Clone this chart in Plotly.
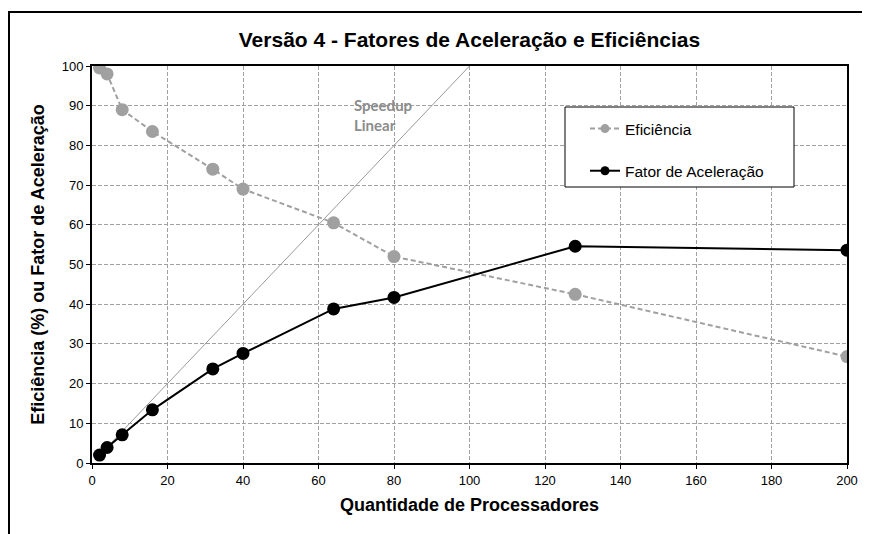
import plotly.graph_objects as go

processadores = [2, 4, 8, 16, 32, 40, 64, 80, 128, 200]
eficiencia = [99.5, 98.0, 89.0, 83.5, 74.0, 69.0, 60.5, 52.0, 42.5, 26.8]
aceleracao = [2.0, 3.9, 7.1, 13.4, 23.7, 27.6, 38.8, 41.7, 54.6, 53.6]
linear_x = [2, 100]
linear_y = [2, 100]
nomes = ["Eficiência", "Fator de Aceleração"]

FONT = "Liberation Sans, Arial, sans-serif"

# page is offset by the 8px body margin; work in figure coordinates
W, H = 862, 526
L, R, T, B = 84, 23, 58, 71
PW, PH = W - L - R, H - T - B

GRAY = "#a0a0a0"
fig = go.Figure()
fig.add_trace(go.Scatter(
    x=linear_x, y=linear_y, mode="lines", showlegend=False,
    line=dict(color="#9a9a9a", width=1), hoverinfo="skip"))
fig.add_trace(go.Scatter(
    x=processadores, y=eficiencia, mode="lines+markers", name=nomes[0],
    showlegend=False,
    line=dict(color=GRAY, width=2, dash="5px,3px"),
    marker=dict(color=GRAY, size=13)))
fig.add_trace(go.Scatter(
    x=processadores, y=aceleracao, mode="lines+markers", name=nomes[1],
    showlegend=False,
    line=dict(color="black", width=2),
    marker=dict(color="black", size=13)))
# legend entries (smaller legend symbols as in the reference)
fig.add_trace(go.Scatter(
    x=[None], y=[None], mode="lines+markers", name=nomes[0], legendgroup="a",
    line=dict(color=GRAY, width=2, dash="5px,3px"),
    marker=dict(color=GRAY, size=9)))
fig.add_trace(go.Scatter(
    x=[None], y=[None], mode="lines+markers", name=nomes[1], legendgroup="b",
    line=dict(color="black", width=2),
    marker=dict(color="black", size=9)))

ann_font = dict(family="Lato, Carlito, Liberation Sans, sans-serif", size=15, color="#8c8c8c")
fig.add_annotation(x=69, y=90.3, xref="x", yref="y", text="<b>Speedup</b>",
                   showarrow=False, xanchor="left", font=ann_font)
fig.add_annotation(x=69, y=85.2, xref="x", yref="y", text="<b>Linear</b>",
                   showarrow=False, xanchor="left", font=ann_font)

# outer chart border
fig.add_shape(type="rect", xref="paper", yref="paper",
              x0=(1 - L) / PW, x1=(858 - L) / PW,
              y0=-0.3, y1=(H - B - 4) / PH,
              line=dict(color="black", width=2), layer="below")
# legend box
fig.add_shape(type="rect", xref="paper", yref="paper",
              x0=(557 - L) / PW, x1=(786 - L) / PW,
              y0=(H - B - 179) / PH, y1=(H - B - 99) / PH,
              line=dict(color="black", width=1), fillcolor="white", layer="above")

axis_common = dict(
    showline=True, linecolor="black", linewidth=2, mirror=True,
    showgrid=True, gridcolor=GRAY, gridwidth=1, griddash="4px,2px",
    zeroline=False, ticks="outside", ticklen=4, tickcolor="black",
    tickfont=dict(family=FONT, size=13, color="black"),
)

fig.update_layout(
    width=W, height=H,
    margin=dict(l=L, r=R, t=T, b=B),
    paper_bgcolor="white", plot_bgcolor="white",
    title=dict(text="<b>Versão 4 - Fatores de Aceleração e Eficiências</b>",
               x=(L + PW / 2) / W, xanchor="center", y=1 - 32 / H, yanchor="middle",
               font=dict(family=FONT, size=21, color="black")),
    xaxis=dict(range=[0, 200], tickvals=list(range(0, 201, 20)),
               title=dict(text="<b>Quantidade de Processadores</b>",
                          font=dict(family=FONT, size=18, color="black"), standoff=12),
               **axis_common),
    yaxis=dict(range=[0, 100], tickvals=list(range(0, 101, 10)),
               title=dict(text="<b>Eficiência (%) ou Fator de Aceleração</b>",
                          font=dict(family=FONT, size=18, color="black"), standoff=12),
               **axis_common),
    legend=dict(x=(577 - L) / PW, y=(H - B - 104) / PH, xanchor="left", yanchor="top",
                bgcolor="rgba(0,0,0,0)", borderwidth=0,
                font=dict(family=FONT, size=15.5, color="black"),
                tracegroupgap=19),
    showlegend=True,
)

fig.write_html("out.html")
